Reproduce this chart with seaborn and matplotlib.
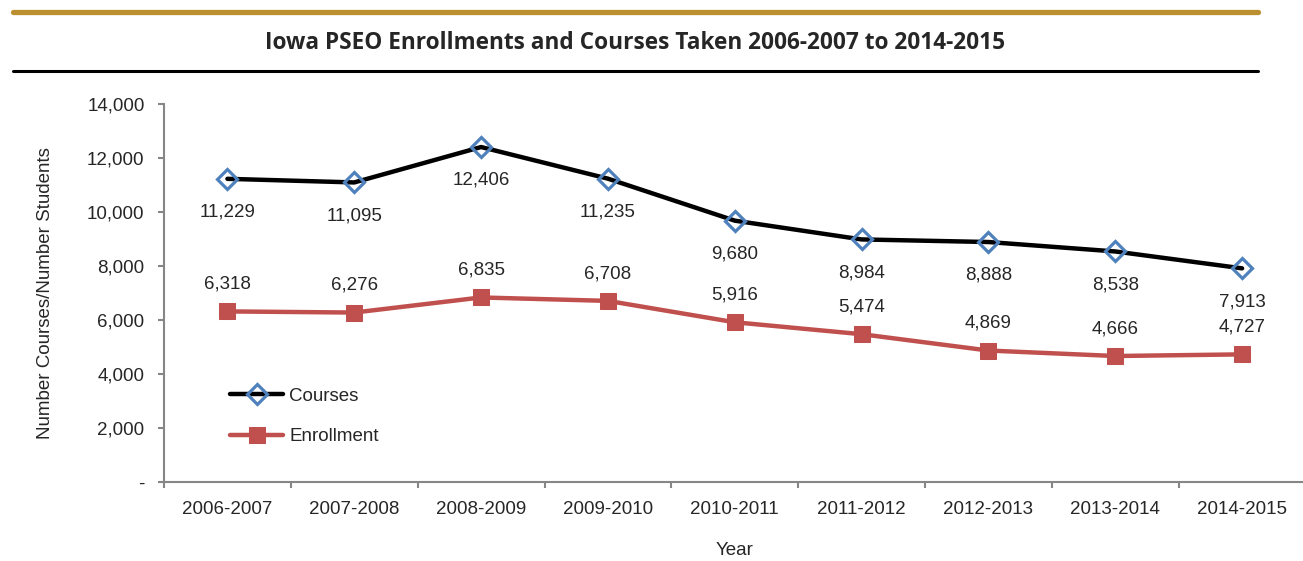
import matplotlib
matplotlib.use('Agg')
import matplotlib.pyplot as plt
from matplotlib.lines import Line2D
from matplotlib.ticker import FuncFormatter, FixedLocator
import seaborn as sns
import pandas as pd

# data
years = ['2006-2007', '2007-2008', '2008-2009', '2009-2010', '2010-2011',
         '2011-2012', '2012-2013', '2013-2014', '2014-2015']
courses = [11229, 11095, 12406, 11235, 9680, 8984, 8888, 8538, 7913]
enrollment = [6318, 6276, 6835, 6708, 5916, 5474, 4869, 4666, 4727]

df = pd.DataFrame({'Year': years, 'Courses': courses, 'Enrollment': enrollment})

sns.set_style('white')
plt.rcParams['font.family'] = ['Liberation Sans', 'DejaVu Sans']

fig = plt.figure(figsize=(13.03, 5.61), dpi=100)
W, H = 1303, 561
ax = fig.add_axes([164 / W, (H - 482) / H, (1303 - 164) / W, 378 / H])

blue = '#4F81BD'
red = '#C0504D'
gray = '#868686'
fs = 13.5

sns.lineplot(data=df, x='Year', y='Courses', ax=ax, sort=False, color='black',
             linewidth=3.2, marker='D', markersize=10, markerfacecolor='none',
             markeredgecolor=blue, markeredgewidth=2.3, label='Courses')
sns.lineplot(data=df, x='Year', y='Enrollment', ax=ax, sort=False, color=red,
             linewidth=3.2, marker='s', markersize=12, markerfacecolor=red,
             markeredgecolor=red, label='Enrollment')

# data labels
for i, v in enumerate(courses):
    ax.annotate(f'{v:,}', (i, v), xytext=(0, -24), textcoords='offset points',
                ha='center', va='center', fontsize=fs)
for i, v in enumerate(enrollment):
    ax.annotate(f'{v:,}', (i, v), xytext=(0, 19.5), textcoords='offset points',
                ha='center', va='center', fontsize=fs)

ax.set_xlim(-0.5, 8.48)
ax.set_ylim(0, 14000)
ax.set_yticks(range(0, 14001, 2000))
ax.yaxis.set_major_formatter(FuncFormatter(lambda v, p: '-' if v == 0 else f'{int(v):,}'))
ax.xaxis.set_minor_locator(FixedLocator([k - 0.5 for k in range(10)]))

for s in ['top', 'right']:
    ax.spines[s].set_visible(False)
for s in ['left', 'bottom']:
    ax.spines[s].set_color(gray)
    ax.spines[s].set_linewidth(1.5)

ax.tick_params(axis='y', which='major', left=True, length=4, width=1.5, color=gray,
               labelsize=fs, pad=10)
ax.tick_params(axis='x', which='major', bottom=False, labelsize=fs, pad=10)
ax.tick_params(axis='x', which='minor', bottom=True, length=4, width=1.5, color=gray)

ax.set_xlabel('Year', fontsize=fs, va='center')
ax.xaxis.set_label_coords(0.501, -0.182)
ax.set_ylabel('Number Courses/Number Students', fontsize=fs, labelpad=24)

ax.legend(loc='center left', bbox_to_anchor=(0.058, 0.174), frameon=False,
          fontsize=fs, handlelength=2.85, handletextpad=0.3, labelspacing=1.25,
          borderpad=0, borderaxespad=0)

# decorative header rules and title
fig.add_artist(Line2D([13 / W, 1258 / W], [1 - 12 / H, 1 - 12 / H], color='#BC9030',
                      linewidth=3.8, transform=fig.transFigure))
fig.add_artist(Line2D([13 / W, 1258 / W], [1 - 71 / H, 1 - 71 / H], color='black',
                      linewidth=2.2, transform=fig.transFigure))
fig.text(635 / W, 1 - 43 / H, 'Iowa PSEO Enrollments and Courses Taken 2006-2007 to 2014-2015',
         ha='center', va='center', fontsize=16.3, fontweight='bold',
         family=['Open Sans', 'DejaVu Sans'])

fig.savefig('out.png', dpi=100)
